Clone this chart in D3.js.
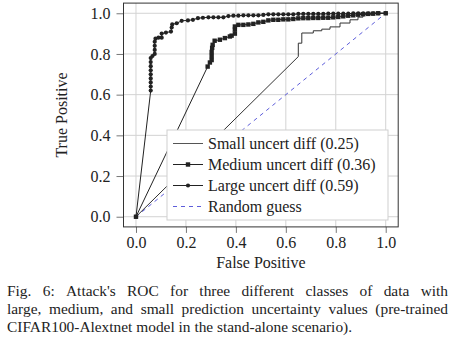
<!DOCTYPE html>
<html><head><meta charset="utf-8">
<script src="https://cdn.jsdelivr.net/npm/d3@7"></script>
<style>body{margin:0;background:#fff}svg{display:block}text{font-family:"Liberation Serif","Times New Roman",serif;fill:#222}</style>
</head><body>
<svg id="c" width="455" height="343"></svg>
<script>
const xTicks=[0,0.2,0.4,0.6,0.8,1.0];
const yTicks=[0,0.2,0.4,0.6,0.8,1.0];
const smallFpr=[0,0.65,0.65,0.664,0.664,0.71,0.71,0.744,0.744,0.777,0.777,0.817,0.817,0.857,0.857,0.889,0.889,0.909,0.909,0.94,0.94,1];
const smallTpr=[0,0.787,0.853,0.853,0.903,0.903,0.914,0.914,0.922,0.922,0.933,0.933,0.952,0.952,0.968,0.968,0.981,0.981,0.993,0.993,1,1];
const medFpr=[0,0.287,0.296,0.303,0.303,0.303,0.305,0.307,0.315,0.336,0.356,0.376,0.383,0.396,0.396,0.396,0.41,0.43,0.45,0.47,0.49,0.51,0.53,0.55,0.57,0.59,0.61,0.63,0.65,0.67,0.69,0.71,0.73,0.75,0.77,0.79,0.81,0.83,0.85,0.87,0.89,0.91,0.93,0.95,0.97,1.0];
const medTpr=[0,0.738,0.758,0.77,0.79,0.81,0.83,0.845,0.865,0.87,0.878,0.886,0.89,0.90,0.92,0.935,0.943,0.943,0.945,0.948,0.955,0.958,0.965,0.968,0.968,0.97,0.97,0.972,0.975,0.976,0.976,0.977,0.977,0.978,0.978,0.98,0.982,0.985,0.988,0.99,0.993,0.995,0.997,0.998,1,1];
const largeFpr=[0,0.059,0.059,0.059,0.059,0.059,0.059,0.059,0.059,0.059,0.066,0.075,0.075,0.075,0.075,0.078,0.09,0.103,0.103,0.12,0.14,0.143,0.145,0.163,0.183,0.208,0.228,0.248,0.268,0.29,0.31,0.33,0.35,0.37,0.39,0.41,0.43,0.45,0.47,0.49,0.51,0.53,0.55,0.57,0.59,0.61,0.63,0.65,0.67,0.69,0.71,0.73,0.75,0.77,0.79,0.81,0.83,0.85,0.87,0.89,0.91,0.93,0.95,0.97,1.0];
const largeTpr=[0,0.62,0.64,0.66,0.68,0.70,0.72,0.74,0.76,0.78,0.79,0.80,0.82,0.84,0.86,0.875,0.88,0.88,0.90,0.905,0.91,0.93,0.945,0.951,0.963,0.965,0.968,0.976,0.978,0.98,0.98,0.98,0.98,0.986,0.988,0.988,0.99,0.99,0.99,0.99,0.992,0.995,0.995,0.995,0.995,0.995,0.995,0.997,0.997,0.997,0.997,0.997,0.997,0.998,0.998,0.998,0.998,0.998,1,1,1,1,1,1,1];
const randFpr=[0,1];
const randTpr=[0,1];
const legendLabels=["Small uncert diff (0.25)","Medium uncert diff (0.36)","Large uncert diff (0.59)","Random guess"];
const xLabel="False Positive", yLabel="True Positive";
const captionLines=["Fig. 6: Attack's ROC for three different classes of data with","large, medium, and small prediction uncertainty values (pre-trained","CIFAR100-Alextnet model in the stand-alone scenario)."];

const svg=d3.select("#c");
const x=d3.scaleLinear().domain([-0.05,1.05]).range([123.5,398.2]);
const y=d3.scaleLinear().domain([-0.05,1.05]).range([226.9,3.1]);
const FS=16, CFS=15.4;
// grid
const g=svg.append("g");
g.selectAll(".gx").data(xTicks).join("line").attr("x1",d=>x(d)).attr("x2",d=>x(d)).attr("y1",y(-0.05)).attr("y2",y(1.05)).attr("stroke","#d3d3d3").attr("stroke-width",1);
g.selectAll(".gy").data(yTicks).join("line").attr("y1",d=>y(d)).attr("y2",d=>y(d)).attr("x1",x(-0.05)).attr("x2",x(1.05)).attr("stroke","#d3d3d3").attr("stroke-width",1);
// axes
const xa=svg.append("g").attr("transform",`translate(0,${y(-0.05)})`).call(d3.axisBottom(x).tickValues(xTicks).tickFormat(d3.format(".1f")).tickSize(6).tickSizeOuter(0).tickPadding(4));
const ya=svg.append("g").attr("transform",`translate(${x(-0.05)},0)`).call(d3.axisLeft(y).tickValues(yTicks).tickFormat(d3.format(".1f")).tickSize(7).tickSizeOuter(0).tickPadding(6));
[xa,ya].forEach(a=>{a.attr("font-family",null).attr("font-size",null);a.select(".domain").remove();a.selectAll("line").attr("stroke","#777");a.selectAll("text").style("font-family","'Liberation Serif',serif").style("font-size",FS+"px").attr("fill","#222");});
// frame
svg.append("rect").attr("x",x(-0.05)).attr("y",y(1.05)).attr("width",x(1.05)-x(-0.05)).attr("height",y(-0.05)-y(1.05)).attr("fill","none").attr("stroke","#333").attr("stroke-width",1);
const line=d3.line().x(d=>x(d[0])).y(d=>y(d[1]));
const zip=(a,b)=>a.map((v,i)=>[v,b[i]]);
// random
svg.append("path").attr("d",line(zip(randFpr,randTpr))).attr("fill","none").attr("stroke","#4b4bd6").attr("stroke-width",0.9).attr("stroke-dasharray","4,4");
// small
svg.append("path").attr("d",line(zip(smallFpr,smallTpr))).attr("fill","none").attr("stroke","#333").attr("stroke-width",1);
// medium
const med=zip(medFpr,medTpr);
svg.append("path").attr("d",line(med)).attr("fill","none").attr("stroke","#222").attr("stroke-width",1);
svg.append("g").selectAll("rect").data(med).join("rect").attr("x",d=>x(d[0])-2.2).attr("y",d=>y(d[1])-2.2).attr("width",4.4).attr("height",4.4).attr("fill","#222");
// large
const lg=zip(largeFpr,largeTpr);
svg.append("path").attr("d",line(lg)).attr("fill","none").attr("stroke","#222").attr("stroke-width",1);
svg.append("g").selectAll("circle").data(lg).join("circle").attr("cx",d=>x(d[0])).attr("cy",d=>y(d[1])).attr("r",2.1).attr("fill","#222");
// legend
const L=svg.append("g");
L.append("rect").attr("x",167).attr("y",130).attr("width",221).attr("height",90).attr("fill","#fff").attr("stroke","#cfcfcf").attr("stroke-width",1);
legendLabels.forEach((t,i)=>{
  const yy=143.5+i*21;
  const ln=L.append("line").attr("x1",173).attr("x2",203).attr("y1",yy).attr("y2",yy).attr("stroke",i==3?"#4b4bd6":(i==0?"#555":"#222")).attr("stroke-width",i==3?0.9:1);
  if(i==3) ln.attr("stroke-dasharray","4,4");
  if(i==1) L.append("rect").attr("x",188-2.2).attr("y",yy-2.2).attr("width",4.4).attr("height",4.4).attr("fill","#222");
  if(i==2) L.append("circle").attr("cx",188).attr("cy",yy).attr("r",2.1).attr("fill","#222");
  L.append("text").attr("x",208).attr("y",yy+5).style("font-size",FS+"px").text(t);
});
// axis labels
svg.append("text").attr("x",(x(-0.05)+x(1.05))/2).attr("y",268).attr("text-anchor","middle").style("font-size",FS+"px").text(xLabel);
svg.append("text").attr("transform",`translate(66.5,${(y(-0.05)+y(1.05))/2}) rotate(-90)`).attr("text-anchor","middle").style("font-size",FS+"px").text(yLabel);
// caption (justified)
const capX0=7, capX1=448, capY=[296,314,332];
captionLines.forEach((ln,i)=>{
  const words=ln.split(" ");
  const tg=svg.append("g");
  if(i<2){
    const ts=words.map(w=>tg.append("text").style("font-size",CFS+"px").attr("y",capY[i]).text(w));
    const widths=ts.map(t=>t.node().getComputedTextLength());
    const total=d3.sum(widths);
    const gap=(capX1-capX0-total)/(words.length-1);
    let cx=capX0;
    ts.forEach((t,j)=>{t.attr("x",cx);cx+=widths[j]+gap;});
  } else {
    tg.append("text").style("font-size",CFS+"px").attr("x",capX0).attr("y",capY[i]).text(ln);
  }
});
</script>
</body></html>
